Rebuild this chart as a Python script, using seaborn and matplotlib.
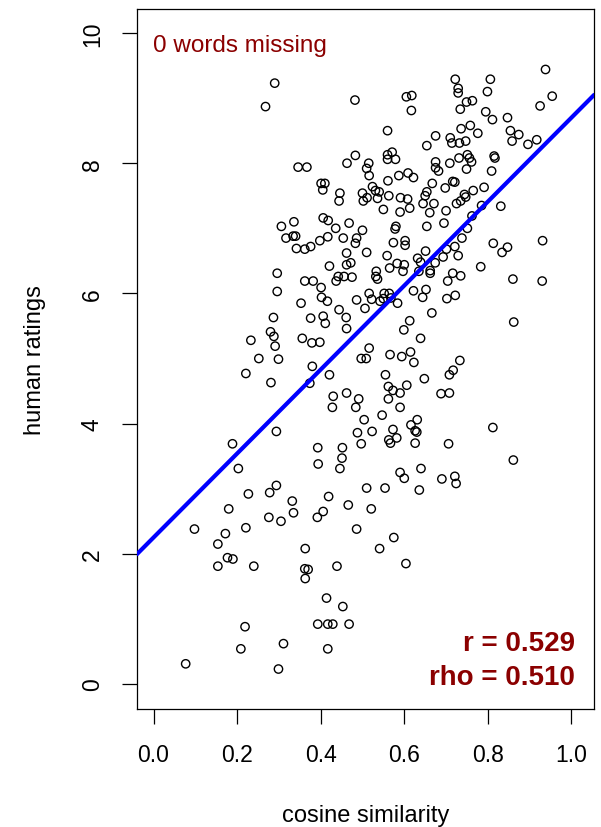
import matplotlib
matplotlib.use("Agg")
import matplotlib.pyplot as plt
import pandas as pd
import seaborn as sns

# values (one point per word pair)
cosine_similarity = [
    0.290, 0.268, 0.346, 0.306, 0.336, 0.317, 0.334, 0.340, 0.342,
    0.482, 0.605, 0.618, 0.617, 0.560, 0.675, 0.654, 0.483, 0.463, 0.515,
    0.510, 0.516, 0.560, 0.571, 0.560, 0.579, 0.675, 0.675, 0.682, 0.367,
    0.587, 0.609, 0.622, 0.561, 0.667, 0.401, 0.410, 0.405, 0.446, 0.444,
    0.524, 0.531, 0.540, 0.500, 0.511, 0.502, 0.536, 0.563, 0.591, 0.608,
    0.654, 0.650, 0.645, 0.671, 0.550, 0.590, 0.613, 0.661, 0.406, 0.418,
    0.468, 0.436, 0.500, 0.580, 0.578, 0.654, 0.398, 0.417, 0.454, 0.486,
    0.483, 0.574, 0.602, 0.602, 0.362, 0.376, 0.462, 0.510, 0.559, 0.632,
    0.651,
    0.938, 0.722, 0.806, 0.729, 0.729, 0.799, 0.749, 0.763, 0.734, 0.795,
    0.811, 0.847, 0.954, 0.925, 0.736, 0.758, 0.776, 0.854, 0.874, 0.858,
    0.896, 0.917, 0.710, 0.714, 0.732, 0.747, 0.709, 0.731, 0.751, 0.756,
    0.761, 0.815, 0.817, 0.749, 0.809, 0.698, 0.716, 0.721, 0.765, 0.791,
    0.744, 0.747, 0.735, 0.725, 0.700, 0.785, 0.831, 0.695, 0.762, 0.751,
    0.738, 0.721, 0.813, 0.834, 0.847, 0.931, 0.729, 0.701,
    0.296, 0.296, 0.287, 0.280, 0.288, 0.233, 0.291, 0.252, 0.299, 0.221,
    0.281, 0.294, 0.189, 0.203, 0.294,
    0.421, 0.462, 0.472, 0.533, 0.565, 0.583, 0.600, 0.639, 0.674, 0.693,
    0.597, 0.635, 0.662, 0.662, 0.362, 0.382, 0.401, 0.437, 0.442, 0.456,
    0.475, 0.532, 0.536, 0.704, 0.353, 0.402, 0.416, 0.486, 0.516, 0.522,
    0.506, 0.542, 0.552, 0.550, 0.564, 0.568, 0.584, 0.622, 0.652, 0.644,
    0.702, 0.444, 0.376, 0.406, 0.411, 0.461, 0.462, 0.613, 0.599, 0.666,
    0.356, 0.379, 0.398, 0.639, 0.516, 0.497, 0.509, 0.566, 0.594, 0.615,
    0.623, 0.380, 0.421, 0.374, 0.555, 0.648, 0.708, 0.430, 0.428, 0.462,
    0.491, 0.484, 0.562, 0.573, 0.562, 0.590, 0.606, 0.590, 0.688, 0.708,
    0.547, 0.504, 0.488, 0.523, 0.497, 0.573, 0.582, 0.563, 0.567, 0.616,
    0.631, 0.626, 0.630, 0.626, 0.706, 0.393, 0.394, 0.452, 0.451, 0.446,
    0.590, 0.600, 0.640, 0.690, 0.510, 0.554, 0.636,
    0.783, 0.716, 0.735, 0.860, 0.930, 0.722, 0.862, 0.733, 0.717, 0.812,
    0.861, 0.721, 0.724,
    0.278, 0.227, 0.332, 0.335, 0.180, 0.276, 0.305, 0.098, 0.172, 0.221,
    0.154, 0.177, 0.190, 0.154, 0.240, 0.219, 0.209, 0.311, 0.077, 0.299,
    0.419, 0.466, 0.521, 0.406, 0.392, 0.486, 0.575, 0.541, 0.363, 0.362,
    0.370, 0.363, 0.439, 0.604, 0.414, 0.453, 0.393, 0.417, 0.429, 0.468,
    0.417,
]
human_ratings = [
    9.23, 8.87, 7.94, 7.03, 7.10, 6.85, 6.88, 6.88, 6.69,
    8.97, 9.02, 9.04, 8.81, 8.50, 8.42, 8.27, 8.12, 8.00, 8.00,
    7.92, 7.81, 8.13, 8.17, 8.06, 8.06, 8.02, 7.93, 7.88, 7.94,
    7.81, 7.85, 7.78, 7.73, 7.69, 7.69, 7.69, 7.59, 7.54, 7.42,
    7.64, 7.58, 7.56, 7.54, 7.47, 7.42, 7.46, 7.50, 7.47, 7.45,
    7.56, 7.50, 7.38, 7.38, 7.29, 7.25, 7.31, 7.24, 7.16, 7.12,
    7.08, 7.00, 6.97, 7.03, 6.99, 7.03, 6.81, 6.87, 6.85, 6.85,
    6.77, 6.78, 6.81, 6.74, 6.68, 6.72, 6.62, 6.63, 6.58, 6.54,
    6.65,
    9.44, 9.29, 9.29, 9.15, 9.08, 9.10, 8.94, 8.96, 8.83, 8.79,
    8.67, 8.70, 9.03, 8.88, 8.53, 8.58, 8.46, 8.50, 8.44, 8.34,
    8.29, 8.36, 8.39, 8.31, 8.31, 8.34, 8.00, 8.08, 8.13, 8.08,
    8.02, 8.11, 8.08, 7.91, 7.88, 7.62, 7.72, 7.71, 7.58, 7.63,
    7.52, 7.48, 7.42, 7.38, 7.27, 7.35, 7.34, 7.08, 7.19, 7.00,
    6.85, 6.72, 6.77, 6.63, 6.71, 6.81, 6.58, 6.68,
    6.31, 6.03, 5.63, 5.41, 5.34, 5.28, 5.19, 5.00, 4.99, 4.77,
    4.63, 3.88, 3.69, 3.31, 3.05,
    6.42, 6.44, 6.47, 6.34, 6.39, 6.46, 6.44, 6.48, 6.47, 6.56,
    6.34, 6.34, 6.35, 6.31, 6.19, 6.19, 6.09, 6.19, 6.26, 6.26,
    6.25, 6.26, 6.22, 6.19, 5.85, 5.94, 5.88, 5.90, 6.00, 5.91,
    5.77, 5.88, 6.00, 5.92, 6.00, 5.93, 5.85, 6.04, 6.06, 5.94,
    5.92, 5.75, 5.62, 5.65, 5.54, 5.63, 5.46, 5.58, 5.44, 5.70,
    5.31, 5.24, 5.25, 5.31, 5.16, 5.00, 5.00, 5.06, 5.03, 5.10,
    4.94, 4.88, 4.75, 4.62, 4.75, 4.69, 4.75, 4.42, 4.25, 4.47,
    4.38, 4.25, 4.57, 4.51, 4.38, 4.47, 4.59, 4.25, 4.46, 4.47,
    4.13, 4.06, 3.86, 3.88, 3.69, 3.91, 3.78, 3.75, 3.70, 3.98,
    4.06, 3.89, 3.87, 3.70, 3.69, 3.63, 3.38, 3.63, 3.47, 3.31,
    3.25, 3.16, 3.31, 3.15, 3.01, 3.01, 2.98,
    6.41, 6.31, 6.27, 6.22, 6.19, 5.97, 5.56, 4.97, 4.82, 3.94,
    3.44, 3.19, 3.08,
    2.94, 2.92, 2.81, 2.63, 2.69, 2.56, 2.50, 2.38, 2.31, 2.40,
    2.15, 1.94, 1.92, 1.81, 1.81, 0.88, 0.54, 0.62, 0.31, 0.23,
    2.88, 2.75, 2.69, 2.65, 2.56, 2.38, 2.25, 2.08, 2.08, 1.77,
    1.76, 1.62, 1.81, 1.85, 1.32, 1.19, 0.92, 0.92, 0.92, 0.92,
    0.54,
]
assert len(cosine_similarity) == len(human_ratings)

# fitted line and correlations as shown in the picture
fit_intercept = 2.25
fit_slope = 6.45
pearson_r = 0.529
spearman_rho = 0.510
words_missing = 0

x_ticks = [0.0, 0.2, 0.4, 0.6, 0.8, 1.0]
y_ticks = [0, 2, 4, 6, 8, 10]

DARKRED = "#8B0000"

sns.set_style("white")
plt.rcParams["font.family"] = ["Liberation Sans", "DejaVu Sans"]
plt.rcParams["text.color"] = "black"
plt.rcParams["axes.labelcolor"] = "black"

df = pd.DataFrame({"cosine similarity": cosine_similarity,
                   "human ratings": human_ratings})

fig = plt.figure(figsize=(6.01, 8.28), dpi=100)
ax = fig.add_axes([137 / 601, 118 / 828, 457 / 601, 700 / 828])

sns.scatterplot(data=df, x="cosine similarity", y="human ratings", ax=ax,
                s=36, marker="o", facecolors="none", edgecolor="black",
                linewidth=1.0, zorder=2)
ax.axline((0, fit_intercept), slope=fit_slope, color="#0000FF", lw=3, zorder=3)

ax.set_xlim(-0.0395, 1.054)
ax.set_ylim(-0.384, 10.369)

for side in ["top", "right", "bottom", "left"]:
    ax.spines[side].set_visible(True)
    ax.spines[side].set_color("black")
    ax.spines[side].set_linewidth(0.9)

ax.set_xticks(x_ticks)
ax.set_xticklabels([f"{t:.1f}" for t in x_ticks])
ax.set_yticks(y_ticks)
ax.set_yticklabels([str(t) for t in y_ticks], rotation=90, va="center")
ax.tick_params(axis="both", direction="out", length=10.8, width=0.9,
               color="black", labelsize=16.5, labelcolor="black")
ax.tick_params(axis="x", pad=14)
ax.tick_params(axis="y", pad=13)
ax.tick_params(bottom=True, left=True)

ax.set_xlabel("cosine similarity", fontsize=17, va="center", color="black")
ax.set_ylabel("human ratings", fontsize=17, va="center", color="black")
ax.xaxis.set_label_coords(0.5, -0.151)
ax.yaxis.set_label_coords(-0.223, 0.5)

ax.text(0.035, 0.9404, f"{words_missing} words missing", transform=ax.transAxes,
        color=DARKRED, fontsize=17.5, ha="left", va="baseline")
ax.text(0.958, 0.0847, f"r = {pearson_r:.3f}", transform=ax.transAxes,
        color=DARKRED, fontsize=20, fontweight="bold", ha="right", va="baseline")
ax.text(0.958, 0.0357, f"rho = {spearman_rho:.3f}", transform=ax.transAxes,
        color=DARKRED, fontsize=20, fontweight="bold", ha="right", va="baseline")

fig.savefig("out.png", dpi=100)
